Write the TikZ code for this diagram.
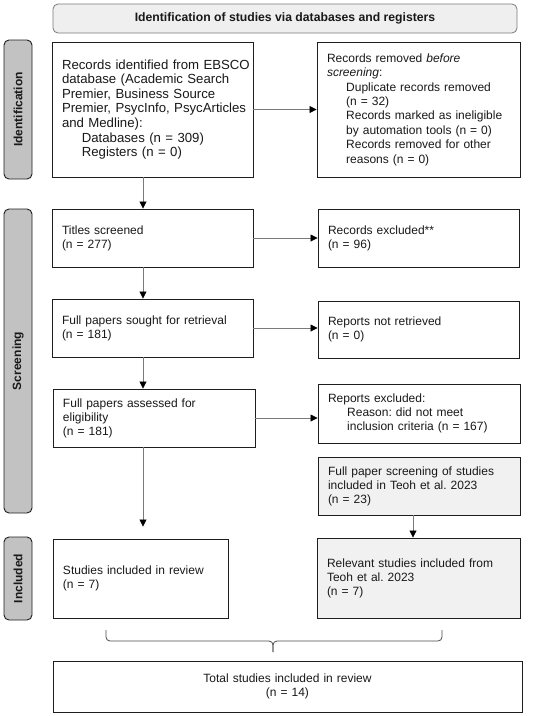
\documentclass[tikz,border=0pt]{standalone}
\usepackage{fontspec}
\setmainfont{Liberation Sans}
\usetikzlibrary{arrows.meta}
\definecolor{hdrfill}{HTML}{EFEFEF}
\definecolor{sidefill}{HTML}{C2C2C2}
\definecolor{teohfill}{HTML}{F1F1F1}
\definecolor{linegray}{HTML}{7A7A7A}
\definecolor{edgecol}{HTML}{1E1E1E}
\newcommand{\nohy}{\frenchspacing\hyphenpenalty 10000\relax\hbadness 10000\relax\hfuzz 50pt\relax}
\begin{document}
\begin{tikzpicture}[x=1pt,y=-1pt,
  every node/.style={font=\fontsize{12}{14}\selectfont\nohy, text=black!90},
  box/.style={draw=edgecol, line width=0.9pt, fill=white, inner xsep=10pt, inner ysep=3pt, align=left},
  hdr/.style={draw=linegray, line width=0.8pt, rounded corners=5pt, fill=hdrfill, minimum width=464pt, minimum height=29pt, font=\fontsize{12.2}{15}\selectfont\bfseries},
  side/.style={draw=edgecol, line width=0.9pt, rounded corners=5pt, fill=sidefill, minimum height=28pt, rotate=90, font=\fontsize{12}{15}\selectfont\bfseries},
  arr/.style={draw=linegray, line width=0.8pt, -{Triangle[length=7pt,width=7pt,color=black]}},
  brc/.style={draw=edgecol!80, line width=0.8pt, rounded corners=4pt}
]
\useasboundingbox (0,0) rectangle (550,716);

% header
\node[hdr] (hdr) at (285,18.5) {Identification of studies via databases and registers};

% side labels
\node[side, minimum width=139pt] (sid) at (18,109.5) {Identification};
\node[side, minimum width=304pt] (sscr) at (18,361) {Screening};
\node[side, minimum width=83pt] (sinc) at (18,578.5) {Included};

% boxes
\node[box, minimum width=201pt, minimum height=135pt, text width=181pt, font=\fontsize{13.2}{14.6}\selectfont\nohy] (rec) at (152.5,109.5)
 {\mbox{Records identified from EBSCO}\\\mbox{database (Academic Search}\\\mbox{Premier, Business Source}\\\mbox{Premier, PsycInfo, PsycArticles}\\and Medline):\\\hspace*{1.5em}Databases (n = 309)\\\hspace*{1.5em}Registers (n = 0)};
\node[box, minimum width=203pt, minimum height=135pt, text width=183pt, font=\fontsize{12}{14.4}\selectfont\nohy] (rem) at (418.5,109.5)
 {Records removed \textit{before}\\\textit{screening}:\\\hspace*{1.6em}Duplicate records removed\\\hspace*{1.6em}(n = 32)\\\hspace*{1.6em}Records marked as ineligible\\\hspace*{1.6em}by automation tools (n = 0)\\\hspace*{1.6em}Records removed for other\\\hspace*{1.6em}reasons (n = 0)};

\node[box, minimum width=201pt, minimum height=58pt, text width=181pt] (tit) at (152.5,238)
 {Titles screened\\(n = 277)};
\node[box, minimum width=201pt, minimum height=58pt, text width=181pt] (exc) at (418.5,238)
 {Records excluded**\\(n = 96)};

\node[box, minimum width=201pt, minimum height=58pt, text width=181pt] (sou) at (152.5,328)
 {Full papers sought for retrieval\\(n = 181)};
\node[box, minimum width=201pt, minimum height=57pt, text width=181pt] (nre) at (418.5,329.5)
 {Reports not retrieved\\(n = 0)};

\node[box, minimum width=202pt, minimum height=58pt, text width=182pt] (ass) at (154,418)
 {Full papers assessed for\\eligibility\\(n = 181)};
\node[box, minimum width=202pt, minimum height=59pt, text width=182pt] (rex) at (419,413.5)
 {Reports excluded:\\\hspace*{1.6em}Reason: did not meet\\\hspace*{1.6em}inclusion criteria (n = 167)};

\node[box, fill=teohfill, minimum width=202pt, minimum height=58pt, text width=182pt] (tsc) at (419,486)
 {Full paper screening of studies\\included in Teoh et al. 2023\\(n = 23)};

\node[box, minimum width=175pt, minimum height=79pt, text width=155pt] (inc) at (140.5,578.5)
 {Studies included in review\\(n = 7)\\[14pt]};
\node[box, fill=teohfill, minimum width=203pt, minimum height=80pt, text width=183pt] (rel) at (418.5,578)
 {Relevant studies included from\\Teoh et al. 2023\\(n = 7)\\[12pt]};

\node[box, minimum width=469pt, minimum height=51pt, text width=449pt, align=center] (tot) at (287.5,686.5)
 {Total studies included in review\\(n = 14)};

% column coordinates
\coordinate (c1) at (143,0);
\coordinate (c2) at (413,0);

% connectors
\draw[arr] (rec.east) -- (rem.west);
\draw[arr] (tit.east) -- (exc.west);
\draw[arr] (sou.east) -- (sou.east -| nre.west);
\draw[arr] (ass.east) -- (ass.east -| rex.west);

\draw[arr] (rec.south -| c1) -- (tit.north -| c1);
\draw[arr] (tit.south -| c1) -- (sou.north -| c1);
\draw[arr] (sou.south -| c1) -- (ass.north -| c1);
\draw[arr, shorten >=12pt] (ass.south -| c1) -- (inc.north -| c1);
\draw[arr] (tsc.south -| c2) -- (rel.north -| c2);

% brace
\draw[brc] (106,630) -- (106,641) -- (273,641) -- (273,652);
\draw[brc] (442,630) -- (442,641) -- (273,641) -- (273,652);
\end{tikzpicture}
\end{document}
